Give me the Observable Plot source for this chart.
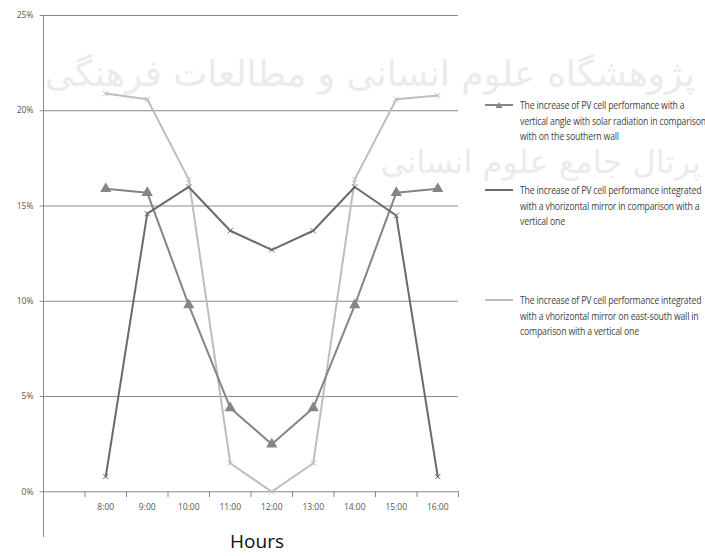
<!DOCTYPE html>
<html>
<head>
<meta charset="utf-8">
<script src="https://cdn.jsdelivr.net/npm/d3@7"></script>
<script src="https://cdn.jsdelivr.net/npm/@observablehq/plot@0.6"></script>
<style>
  html, body { margin: 0; padding: 0; background: #fff; }
  #wrap { position: relative; width: 705px; height: 556px; overflow: hidden; }
  #chart { position: absolute; left: 0; top: 0; z-index: 2; }
  .wm { position: absolute; z-index: 1; color: #ebebeb; font-family: "DejaVu Sans", sans-serif; white-space: nowrap; direction: rtl; line-height: 1; }
  #legend { position: absolute; left: 485px; top: 0; z-index: 3; font-family: "Open Sans", sans-serif; font-size: 10px; color: #444; }
  .item { position: absolute; left: 0; white-space: nowrap; }
  .item svg { position: absolute; left: 0; top: 0; }
  .item .txt { position: absolute; left: 35px; top: -7px; line-height: 15.7px; letter-spacing: -0.2px; transform: scaleX(0.87); transform-origin: 0 0; }
</style>
</head>
<body>
<div id="wrap">
  <div class="wm" style="right: 10px; top: 56px; font-size: 36px;">پژوهشگاه علوم انسانی و مطالعات فرهنگی</div>
  <div class="wm" style="right: 4px; top: 146px; font-size: 32px;">پرتال جامع علوم انسانی</div>
  <div id="chart"></div>
  <div id="legend"></div>
</div>
<script>
const slots = ["", "8:00", "9:00", "10:00", "11:00", "12:00", "13:00", "14:00", "15:00", "16:00"];
const hours = slots.slice(1);
const seriesA = [15.9, 15.7, 9.8, 4.4, 2.5, 4.4, 9.8, 15.7, 15.9];
const seriesB = [0.8, 14.6, 16.0, 13.7, 12.7, 13.7, 16.0, 14.5, 0.8];
const seriesC = [20.9, 20.6, 16.4, 1.5, 0.0, 1.5, 16.4, 20.6, 20.8];
const names = [
  "The increase of PV cell performance with a|vertical angle with solar radiation in comparison|with on the southern wall",
  "The increase of PV cell performance integrated|with a vhorizontal mirror in comparison with a|vertical one",
  "The increase of PV cell performance integrated|with a vhorizontal mirror on east-south wall in|comparison with a vertical one"
];
const colors = ["#858585", "#6a6a6a", "#bdbdbd"];
const yTicks = [0, 5, 10, 15, 20, 25];
const xLabel = "Hours";

const slotPos = h => slots.indexOf(h) + 0.5;
const boundaries = slots.map((s, i) => i + 1);

function rows(values, k) {
  return hours.map((h, i) => ({hour: h, slot: slotPos(h), value: values[i], series: k}));
}
const dataA = rows(seriesA, 0), dataB = rows(seriesB, 1), dataC = rows(seriesC, 2);

const font = "'Open Sans', 'Liberation Sans', sans-serif";

const chart = Plot.plot({
  width: 705,
  height: 556,
  marginLeft: 43,
  marginRight: 247,
  marginTop: 15,
  marginBottom: 19,
  style: {fontFamily: font, background: "transparent", overflow: "visible"},
  x: {domain: [0, slots.length], axis: null},
  y: {domain: [-2.4, 25], axis: null},
  marks: [
    Plot.ruleY(yTicks, {stroke: "#8a8a8a", strokeWidth: 1}),
    Plot.ruleY(yTicks, {x1: -0.08, x2: 0, stroke: "#8a8a8a"}),
    Plot.ruleX([0], {stroke: "#8a8a8a", strokeWidth: 1}),
    Plot.ruleX(boundaries, {y1: 0, y2: -0.3, stroke: "#8a8a8a"}),
    Plot.text(yTicks, {x: 0, y: d => d, text: d => d + "%", textAnchor: "end", dx: -10, fontSize: 8.5, fill: "#555"}),
    Plot.text(hours, {x: d => slotPos(d), y: 0, text: d => d, dy: 15, fontSize: 8.5, fill: "#555"}),
    Plot.text([xLabel], {frameAnchor: "bottom", dx: 6, dy: 10, fontSize: 19, fill: "#111"}),
    Plot.line(dataC, {x: "slot", y: "value", stroke: colors[2], strokeWidth: 2}),
    Plot.dot(dataC, {x: "slot", y: "value", symbol: "times", r: 2.5, stroke: colors[2], strokeWidth: 1}),
    Plot.line(dataA, {x: "slot", y: "value", stroke: colors[0], strokeWidth: 2}),
    Plot.dot(dataA, {x: "slot", y: "value", symbol: "triangle", r: 3.2, fill: colors[0], stroke: colors[0]}),
    Plot.line(dataB, {x: "slot", y: "value", stroke: colors[1], strokeWidth: 2}),
    Plot.dot(dataB, {x: "slot", y: "value", symbol: "times", r: 2.5, stroke: colors[1], strokeWidth: 1})
  ]
});
document.getElementById("chart").appendChild(chart);

// legend
const legendTops = [105, 190, 300];
const legend = document.getElementById("legend");
names.forEach((n, k) => {
  const item = document.createElement("div");
  item.className = "item";
  item.style.top = legendTops[k] + "px";
  const marker = k === 0
    ? `<path d="M14,-3 L17.5,3 L10.5,3 Z" fill="${colors[0]}"/>`
    : "";
  item.innerHTML = `<svg width="30" height="12" viewBox="0 -6 30 12" style="top:-6px"><line x1="0" x2="28" y1="0" y2="0" stroke="${colors[k]}" stroke-width="2"/>${marker}</svg>` +
    `<div class="txt">${n.split("|").join("<br>")}</div>`;
  legend.appendChild(item);
});
</script>
</body>
</html>
